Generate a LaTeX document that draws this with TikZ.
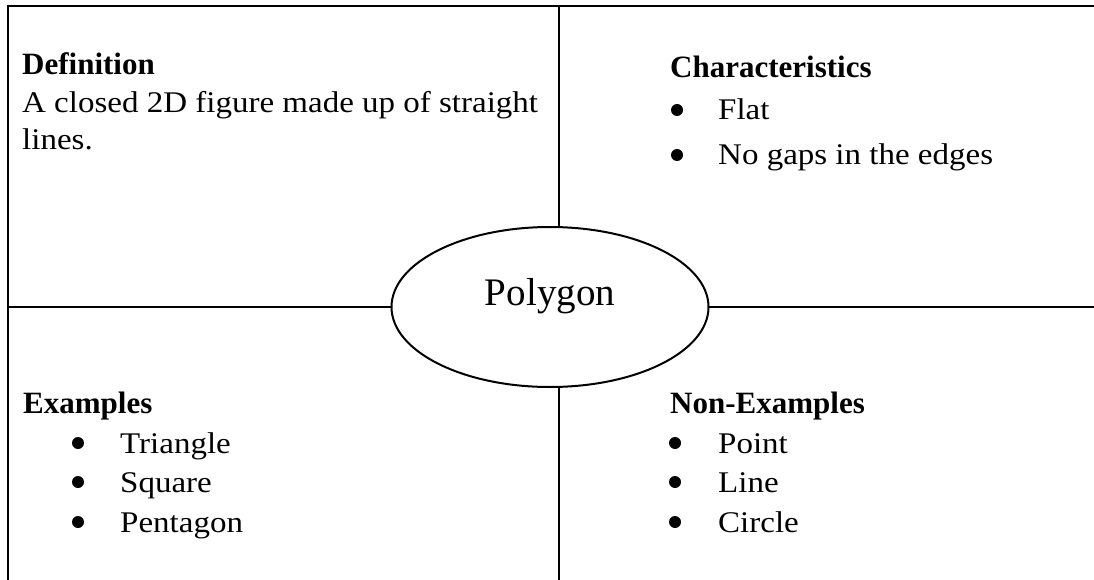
\documentclass[tikz,border=0pt]{standalone}
\usepackage{fontspec}
\setmainfont{Liberation Serif}
\newfontfamily\bodyfont[FakeStretch=1.1]{Liberation Serif}
\usetikzlibrary{shapes.geometric}
\tikzset{
  frameline/.style={line width=2pt, line cap=rect},
  head/.style={anchor=base west, inner sep=0pt, font=\fontsize{31}{37}\selectfont\bfseries},
  body/.style={anchor=base west, inner sep=0pt, font=\bodyfont\fontsize{30}{37}\selectfont},
  bul/.style={circle, fill=black, inner sep=0pt, minimum size=12pt},
  oval/.style={ellipse, draw, line width=2pt, fill=white, minimum width=317pt, minimum height=160pt, inner sep=0pt},
}
\begin{document}
\begin{tikzpicture}[x=1pt,y=-1pt]
\useasboundingbox (0,0) rectangle (1094,580);
% frame coordinates
\coordinate (tl) at (8,6);
\coordinate (tr) at (1094,6);
\coordinate (bl) at (8,580);
\coordinate (tm) at (559,6);
\coordinate (bm) at (559,580);
\coordinate (ml) at (8,307);
\coordinate (mr) at (1094,307);
\draw[frameline] (bl) -- (tl) -- (tr);
\draw[frameline] (tm) -- (bm);
\draw[frameline] (ml) -- (mr);
% central oval
\node[oval] (poly) at (550,307) {};
\node[anchor=base, inner sep=0pt, font=\fontsize{39}{44}\selectfont] (polyt) at (550,305) {Polygon};
% Definition
\node[head] (defh) at (22,75) {Definition};
\node[body] (def1) at (22,113) {A closed 2D figure made up of straight};
\node[body] (def2) at (22,150) {lines.};
% Characteristics
\node[head] (chh) at (670,78) {Characteristics};
\node[bul] (cb1) at (677,110) {};
\node[body] (ch1) at (718,120) {Flat};
\node[bul] (cb2) at (677,155) {};
\node[body] (ch2) at (718,165) {No gaps in the edges};
% Examples
\node[head] (exh) at (23,413) {Examples};
\node[bul] (eb1) at (78,443) {};
\node[body] (ex1) at (120,453) {Triangle};
\node[bul] (eb2) at (78,482) {};
\node[body] (ex2) at (120,492) {Square};
\node[bul] (eb3) at (78,522) {};
\node[body] (ex3) at (120,532) {Pentagon};
% Non-Examples
\node[head] (nxh) at (670,413) {Non-Examples};
\node[bul] (nb1) at (675,443) {};
\node[body] (nx1) at (718,453) {Point};
\node[bul] (nb2) at (675,482) {};
\node[body] (nx2) at (718,492) {Line};
\node[bul] (nb3) at (675,522) {};
\node[body] (nx3) at (718,532) {Circle};
\end{tikzpicture}
\end{document}
